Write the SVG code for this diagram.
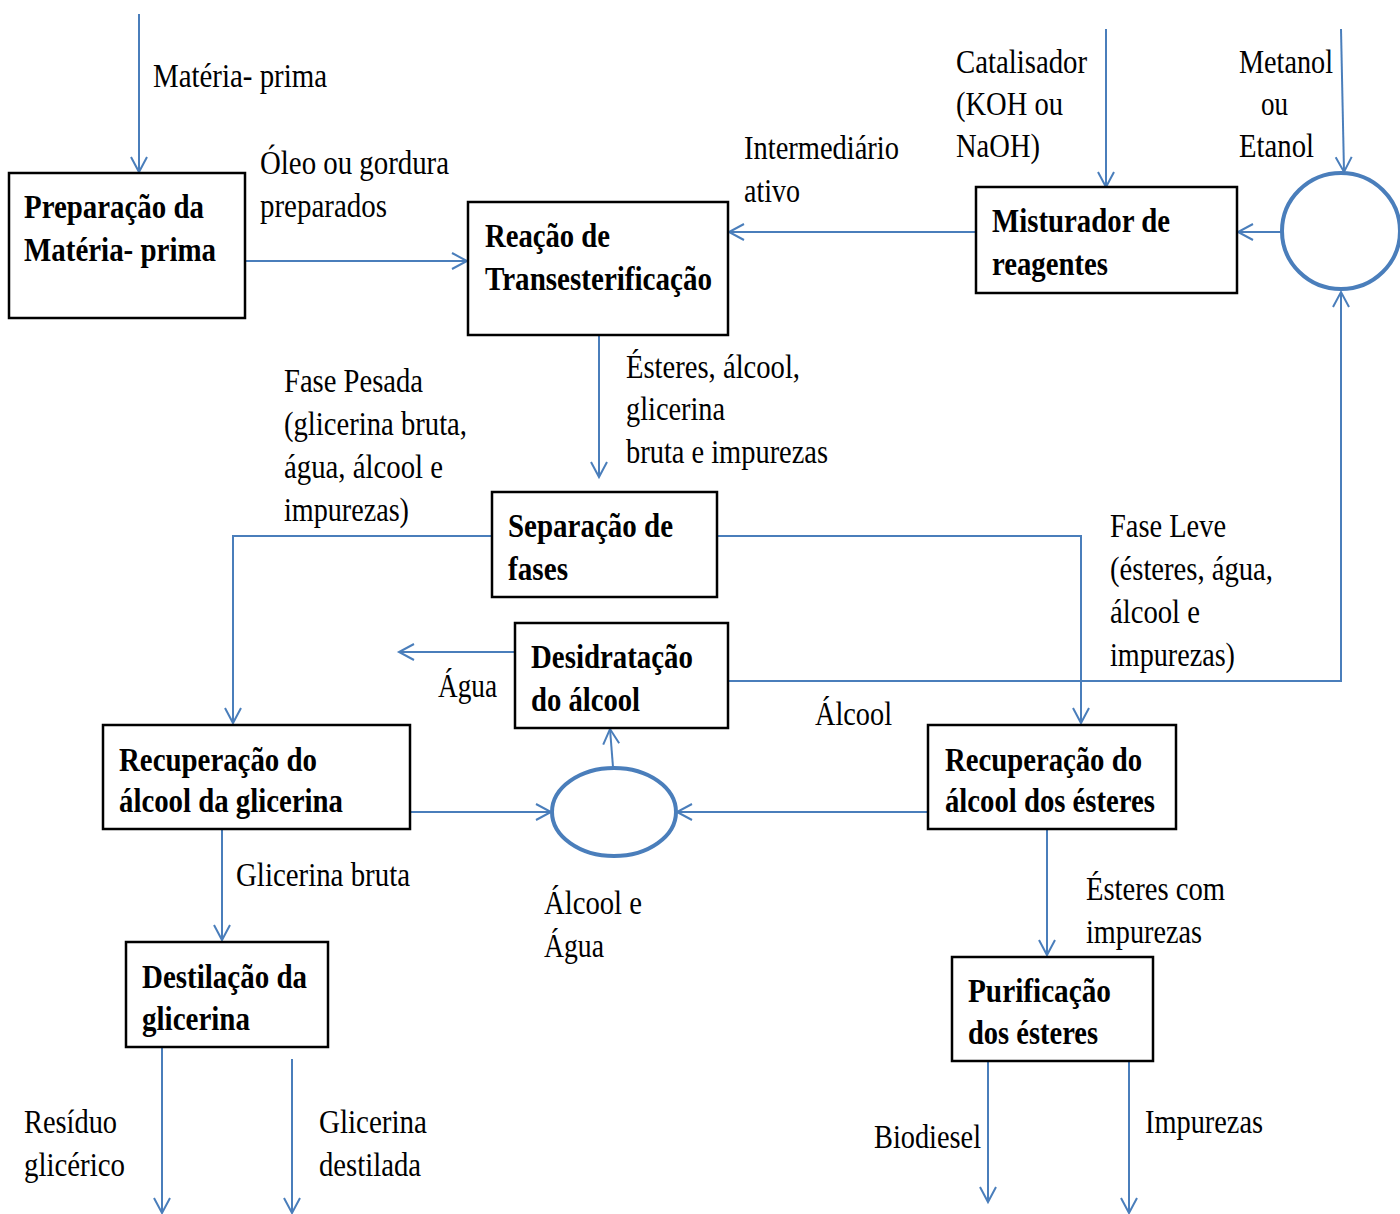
<svg xmlns="http://www.w3.org/2000/svg" width="1400" height="1214" viewBox="0 0 1400 1214">
<defs>
<style>
.box{fill:#fff;stroke:#000;stroke-width:2.5}
.c{fill:none;stroke:#4a7ebb;stroke-width:2}
.e{fill:none;stroke:#4a7ebb;stroke-width:4}
text{font-family:'Liberation Serif','Times New Roman','DejaVu Serif','Noto Serif',serif;font-size:33px;fill:#000}
.b{font-weight:bold}
</style>
<marker id="a" markerUnits="userSpaceOnUse" markerWidth="20" markerHeight="20" refX="16" refY="9" orient="auto" viewBox="0 0 20 18"><path d="M1,1 L16,9 L1,17" fill="none" stroke="#4a7ebb" stroke-width="2"/></marker>
</defs>
<rect width="1400" height="1214" fill="#fff"/>

<g id="connectors">
<line class="c" x1="139" y1="14" x2="139" y2="172" marker-end="url(#a)"/>
<line class="c" x1="245" y1="261" x2="467" y2="261" marker-end="url(#a)"/>
<line class="c" x1="976" y1="232" x2="729" y2="232" marker-end="url(#a)"/>
<line class="c" x1="1106" y1="29" x2="1106" y2="187" marker-end="url(#a)"/>
<line class="c" x1="1341" y1="29" x2="1344" y2="172" marker-end="url(#a)"/>
<line class="c" x1="1282" y1="232" x2="1238" y2="232" marker-end="url(#a)"/>
<polyline class="c" points="728,681 1341,681 1341,292" marker-end="url(#a)"/>
<line class="c" x1="599" y1="320" x2="599" y2="477" marker-end="url(#a)"/>
<polyline class="c" points="492,536 233,536 233,723" marker-end="url(#a)"/>
<polyline class="c" points="717,536 1081,536 1081,723" marker-end="url(#a)"/>
<line class="c" x1="515" y1="652" x2="399" y2="652" marker-end="url(#a)"/>
<line class="c" x1="613" y1="767" x2="610" y2="729" marker-end="url(#a)"/>
<line class="c" x1="410" y1="812" x2="551" y2="812" marker-end="url(#a)"/>
<line class="c" x1="928" y1="812" x2="677" y2="812" marker-end="url(#a)"/>
<line class="c" x1="222" y1="827" x2="222" y2="940" marker-end="url(#a)"/>
<line class="c" x1="1047" y1="827" x2="1047" y2="955" marker-end="url(#a)"/>
<line class="c" x1="162" y1="1044" x2="162" y2="1213" marker-end="url(#a)"/>
<line class="c" x1="292" y1="1059" x2="292" y2="1213" marker-end="url(#a)"/>
<line class="c" x1="988" y1="1058" x2="988" y2="1202" marker-end="url(#a)"/>
<line class="c" x1="1129" y1="1059" x2="1129" y2="1213" marker-end="url(#a)"/>
</g>

<g id="mixer-circle"><ellipse class="e" cx="1341" cy="231" rx="59" ry="58"/></g>
<g id="ellipse-mix"><ellipse class="e" cx="614" cy="812" rx="62" ry="44"/></g>

<g id="n-preparacao">
<rect class="box" x="9" y="173" width="236" height="145"/>
<text class="b" x="24" y="218" textLength="180" lengthAdjust="spacingAndGlyphs">Preparação da</text>
<text class="b" x="24" y="261" textLength="192" lengthAdjust="spacingAndGlyphs">Matéria- prima</text>
</g>
<g id="n-reacao">
<rect class="box" x="468" y="202" width="260" height="133"/>
<text class="b" x="485" y="247" textLength="125" lengthAdjust="spacingAndGlyphs">Reação de</text>
<text class="b" x="485" y="290" textLength="227" lengthAdjust="spacingAndGlyphs">Transesterificação</text>
</g>
<g id="n-misturador">
<rect class="box" x="976" y="187" width="261" height="106"/>
<text class="b" x="992" y="232" textLength="178" lengthAdjust="spacingAndGlyphs">Misturador de</text>
<text class="b" x="992" y="275" textLength="116" lengthAdjust="spacingAndGlyphs">reagentes</text>
</g>
<g id="n-separacao">
<rect class="box" x="492" y="492" width="225" height="105"/>
<text class="b" x="508" y="537" textLength="165" lengthAdjust="spacingAndGlyphs">Separação de</text>
<text class="b" x="508" y="580" textLength="60" lengthAdjust="spacingAndGlyphs">fases</text>
</g>
<g id="n-desidratacao">
<rect class="box" x="515" y="623" width="213" height="105"/>
<text class="b" x="531" y="668" textLength="162" lengthAdjust="spacingAndGlyphs">Desidratação</text>
<text class="b" x="531" y="711" textLength="109" lengthAdjust="spacingAndGlyphs">do álcool</text>
</g>
<g id="n-rec-glicerina">
<rect class="box" x="103" y="725" width="307" height="104"/>
<text class="b" x="119" y="771" textLength="198" lengthAdjust="spacingAndGlyphs">Recuperação do</text>
<text class="b" x="119" y="812" textLength="224" lengthAdjust="spacingAndGlyphs">álcool da glicerina</text>
</g>
<g id="n-rec-esteres">
<rect class="box" x="928" y="725" width="248" height="104"/>
<text class="b" x="945" y="771" textLength="197" lengthAdjust="spacingAndGlyphs">Recuperação do</text>
<text class="b" x="945" y="812" textLength="210" lengthAdjust="spacingAndGlyphs">álcool dos ésteres</text>
</g>
<g id="n-destilacao">
<rect class="box" x="126" y="942" width="202" height="105"/>
<text class="b" x="142" y="988" textLength="165" lengthAdjust="spacingAndGlyphs">Destilação da</text>
<text class="b" x="142" y="1030" textLength="108" lengthAdjust="spacingAndGlyphs">glicerina</text>
</g>
<g id="n-purificacao">
<rect class="box" x="952" y="957" width="201" height="104"/>
<text class="b" x="968" y="1002" textLength="143" lengthAdjust="spacingAndGlyphs">Purificação</text>
<text class="b" x="968" y="1044" textLength="130" lengthAdjust="spacingAndGlyphs">dos ésteres</text>
</g>

<g id="labels">
<text x="153" y="87" textLength="174" lengthAdjust="spacingAndGlyphs">Matéria- prima</text>
<text x="260" y="174" textLength="189" lengthAdjust="spacingAndGlyphs">Óleo ou gordura</text>
<text x="260" y="217" textLength="127" lengthAdjust="spacingAndGlyphs">preparados</text>
<text x="744" y="159" textLength="155" lengthAdjust="spacingAndGlyphs">Intermediário</text>
<text x="744" y="202" textLength="56" lengthAdjust="spacingAndGlyphs">ativo</text>
<text x="956" y="73" textLength="131" lengthAdjust="spacingAndGlyphs">Catalisador</text>
<text x="956" y="115" textLength="107" lengthAdjust="spacingAndGlyphs">(KOH ou</text>
<text x="956" y="157" textLength="84" lengthAdjust="spacingAndGlyphs">NaOH)</text>
<text x="1239" y="73" textLength="94" lengthAdjust="spacingAndGlyphs">Metanol</text>
<text x="1261" y="115" textLength="27" lengthAdjust="spacingAndGlyphs">ou</text>
<text x="1239" y="157" textLength="75" lengthAdjust="spacingAndGlyphs">Etanol</text>
<text x="626" y="378" textLength="174" lengthAdjust="spacingAndGlyphs">Ésteres, álcool,</text>
<text x="626" y="420" textLength="99" lengthAdjust="spacingAndGlyphs">glicerina</text>
<text x="626" y="463" textLength="202" lengthAdjust="spacingAndGlyphs">bruta e impurezas</text>
<text x="284" y="392" textLength="139" lengthAdjust="spacingAndGlyphs">Fase Pesada</text>
<text x="284" y="435" textLength="183" lengthAdjust="spacingAndGlyphs">(glicerina bruta,</text>
<text x="284" y="478" textLength="159" lengthAdjust="spacingAndGlyphs">água, álcool e</text>
<text x="284" y="521" textLength="125" lengthAdjust="spacingAndGlyphs">impurezas)</text>
<text x="1110" y="537" textLength="116" lengthAdjust="spacingAndGlyphs">Fase Leve</text>
<text x="1110" y="580" textLength="163" lengthAdjust="spacingAndGlyphs">(ésteres, água,</text>
<text x="1110" y="623" textLength="90" lengthAdjust="spacingAndGlyphs">álcool e</text>
<text x="1110" y="666" textLength="125" lengthAdjust="spacingAndGlyphs">impurezas)</text>
<text x="438" y="697" textLength="59" lengthAdjust="spacingAndGlyphs">Água</text>
<text x="815" y="725" textLength="77" lengthAdjust="spacingAndGlyphs">Álcool</text>
<text x="236" y="886" textLength="174" lengthAdjust="spacingAndGlyphs">Glicerina bruta</text>
<text x="544" y="914" textLength="98" lengthAdjust="spacingAndGlyphs">Álcool e</text>
<text x="544" y="957" textLength="60" lengthAdjust="spacingAndGlyphs">Água</text>
<text x="1086" y="900" textLength="139" lengthAdjust="spacingAndGlyphs">Ésteres com</text>
<text x="1086" y="943" textLength="116" lengthAdjust="spacingAndGlyphs">impurezas</text>
<text x="24" y="1133" textLength="93" lengthAdjust="spacingAndGlyphs">Resíduo</text>
<text x="24" y="1176" textLength="101" lengthAdjust="spacingAndGlyphs">glicérico</text>
<text x="319" y="1133" textLength="108" lengthAdjust="spacingAndGlyphs">Glicerina</text>
<text x="319" y="1176" textLength="102" lengthAdjust="spacingAndGlyphs">destilada</text>
<text x="874" y="1148" textLength="107" lengthAdjust="spacingAndGlyphs">Biodiesel</text>
<text x="1145" y="1133" textLength="118" lengthAdjust="spacingAndGlyphs">Impurezas</text>
</g>
</svg>
